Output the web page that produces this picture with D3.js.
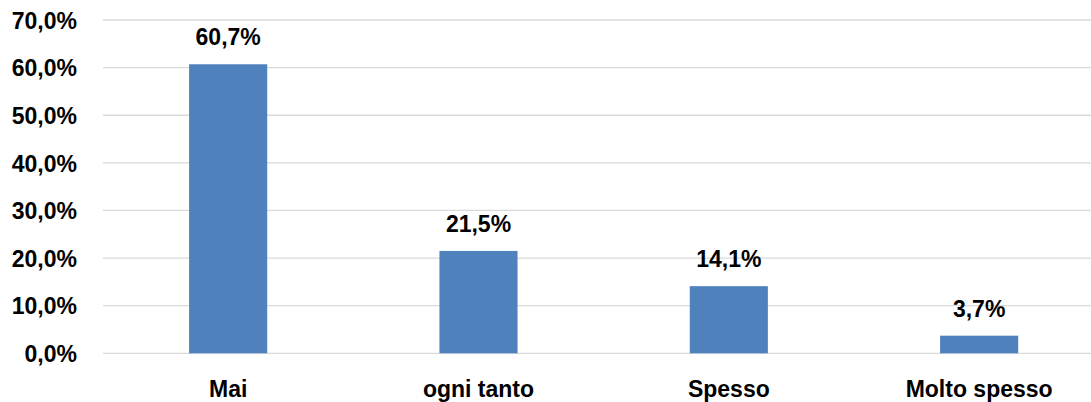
<!DOCTYPE html>
<html>
<head>
<meta charset="utf-8">
<script src="https://cdn.jsdelivr.net/npm/d3@7"></script>
<style>
  html, body { margin: 0; padding: 0; background: #fff; }
  svg { display: block; }
  text { font-family: "Liberation Sans", Arial, sans-serif; font-weight: bold; fill: #000; }
</style>
</head>
<body>
<svg id="chart" width="1091" height="402"></svg>
<script>
// Frequency categories and their shares (percent)
const categories = ["Mai", "ogni tanto", "Spesso", "Molto spesso"];
const values = [60.7, 21.5, 14.1, 3.7];
const yTicks = [0, 10, 20, 30, 40, 50, 60, 70];

const fmt = v => d3.format(".1f")(v).replace(".", ",") + "%";

const svg = d3.select("#chart");
const plot = { left: 103, right: 1104.3, top: 20, bottom: 353.3 };

const x = d3.scaleBand()
  .domain(categories)
  .range([plot.left, plot.right])
  .padding(0);

const y = d3.scaleLinear()
  .domain([0, 70])
  .range([plot.bottom, plot.top]);

const barWidth = x.bandwidth() * 0.312;

// Horizontal gridlines
svg.append("g")
  .selectAll("line")
  .data(yTicks)
  .join("line")
  .attr("x1", plot.left)
  .attr("x2", 1091)
  .attr("y1", d => y(d))
  .attr("y2", d => y(d))
  .attr("stroke", "#d9d9d9")
  .attr("stroke-width", 1.3);

// Y axis labels
const yAxis = d3.axisLeft(y)
  .tickValues(yTicks)
  .tickFormat(fmt)
  .tickSize(0)
  .tickPadding(0);

const gy = svg.append("g")
  .attr("transform", "translate(77,0)")
  .call(yAxis);
gy.select(".domain").remove();
gy.selectAll("text")
  .attr("font-size", 23)
  .attr("font-family", "Liberation Sans, Arial, sans-serif")
  .attr("font-weight", "bold")
  .attr("fill", "#000")
  .attr("dy", "0.36em");

// Bars
svg.append("g")
  .selectAll("rect")
  .data(values)
  .join("rect")
  .attr("x", (d, i) => x(categories[i]) + x.bandwidth() / 2 - barWidth / 2)
  .attr("width", barWidth)
  .attr("y", d => y(d))
  .attr("height", d => y(0) - y(d))
  .attr("fill", "#4f81bd");

// Value labels above bars
svg.append("g")
  .selectAll("text")
  .data(values)
  .join("text")
  .attr("x", (d, i) => x(categories[i]) + x.bandwidth() / 2)
  .attr("y", d => y(d) - 19)
  .attr("text-anchor", "middle")
  .attr("font-size", 23)
  .text(fmt);

// Category labels
const xAxis = d3.axisBottom(x).tickSize(0).tickPadding(0);
const gx = svg.append("g")
  .attr("transform", "translate(0,397)")
  .call(xAxis);
gx.select(".domain").remove();
gx.selectAll("text")
  .attr("font-size", 23)
  .attr("font-family", "Liberation Sans, Arial, sans-serif")
  .attr("font-weight", "bold")
  .attr("fill", "#000")
  .attr("dy", 0);
</script>
</body>
</html>
